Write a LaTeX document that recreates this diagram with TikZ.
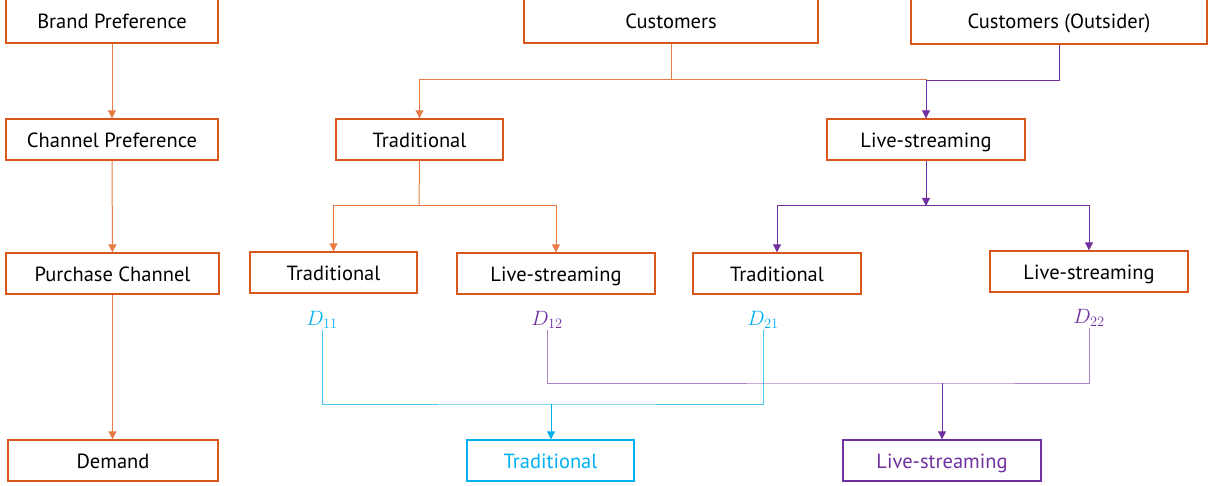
\documentclass[tikz,border=0pt]{standalone}
\usepackage{fontspec}
\setmainfont{PT Sans}
\usetikzlibrary{arrows.meta}
\definecolor{obord}{RGB}{214,86,28}
\definecolor{oline}{RGB}{232,122,70}
\definecolor{pline}{RGB}{112,48,160}
\definecolor{cline}{RGB}{0,176,240}
\tikzset{
  x=1pt,y=-1pt,
  box/.style={draw=obord,line width=1.4pt,rectangle,inner sep=0pt,font=\fontsize{20.5}{22}\selectfont,text=black,text height=17pt,text depth=1pt},
  cbox/.style={box,draw=cline,text=cline},
  pbox/.style={box,draw=pline,text=pline},
  tip/.style={-{Triangle[length=8pt,width=8pt]}},
  oarr/.style={draw=oline,line width=1pt,tip},
  parr/.style={draw=pline,line width=1pt,tip},
  carr/.style={draw=cline,line width=1pt,tip},
  olink/.style={draw=oline,line width=1pt},
  plink/.style={draw=pline!60,line width=1pt},
  clink/.style={draw=cline!70,line width=1pt},
  dlab/.style={inner sep=1pt,font=\fontsize{20}{22}\selectfont},
}
\begin{document}
\begin{tikzpicture}
\useasboundingbox (0,0) rectangle (1214,486);
% left column
\node[box,minimum width=212,minimum height=45] (brand) at (112,20.5) {Brand Preference};
\node[box,minimum width=212,minimum height=41] (chan) at (112,139.5) {Channel Preference};
\node[box,minimum width=213,minimum height=41] (purch) at (112.5,273.5) {Purchase Channel};
\node[box,minimum width=210,minimum height=41] (demand) at (113,460.5) {Demand};
% top
\node[box,minimum width=294,minimum height=45] (cust) at (671,20.5) {Customers};
\node[box,minimum width=296,minimum height=46] (outs) at (1059,21) {Customers (Outsider)};
% middle row
\node[box,minimum width=167,minimum height=41] (tradm) at (419.5,139.5) {Traditional};
\node[box,minimum width=198,minimum height=41] (livem) at (926,139.5) {Live-streaming};
% third row
\node[box,minimum width=167,minimum height=41] (tradA) at (333.5,272.5) {Traditional};
\node[box,minimum width=198,minimum height=41] (liveA) at (556,273.5) {Live-streaming};
\node[box,minimum width=168,minimum height=41] (tradB) at (777,273.5) {Traditional};
\node[box,minimum width=198,minimum height=41] (liveB) at (1089,271.5) {Live-streaming};
% D labels
\node[dlab,text=cline] (d11) at (322,320) {$D_{\scriptstyle 11}$};
\node[dlab,text=pline] (d12) at (547,320) {$D_{\scriptstyle 12}$};
\node[dlab,text=cline] (d21) at (763,320) {$D_{\scriptstyle 21}$};
\node[dlab,text=pline] (d22) at (1089,318) {$D_{\scriptstyle 22}$};
% bottom
\node[cbox,minimum width=167,minimum height=41] (tradD) at (550.5,460.5) {Traditional};
\node[pbox,minimum width=198,minimum height=41] (liveD) at (942,460.5) {Live-streaming};
% junction coordinates
\coordinate (jtop) at (671,80);
\coordinate (jo) at (1059,81);
\coordinate (jt) at (419,206);
\coordinate (jl) at (926,206);
\coordinate (jc) at (551,404);
\coordinate (jp) at (942,383);
% left chain
\draw[oarr] (brand) -- (chan);
\draw[oarr] (chan) -- (purch);
\draw[oarr] (purch.south) -- (purch.south |- demand.north);
% customers
\draw[oarr] (cust.south) -- (jtop) -| (tradm.north);
\draw[olink] (jtop) -| (livem.north);
\draw[parr] (outs.south) -- (jo) -| (livem.north);
% forks
\draw[olink] (tradm.south) -- (jt);
\draw[oarr] (jt) -| (tradA.north);
\draw[oarr] (jt) -| (liveA.north);
\draw[parr] (livem.south) -- (jl);
\draw[parr] (jl) -| (tradB.north);
\draw[parr] (jl) -| (liveB.north);
% demand links
\draw[clink] (d11.south) |- (jc) -| (d21.south);
\draw[carr] (jc) -- (jc |- tradD.north);
\draw[plink] (d12.south) |- (jp) -| (d22.south);
\draw[parr] (jp) -- (jp |- liveD.north);
\end{tikzpicture}
\end{document}
